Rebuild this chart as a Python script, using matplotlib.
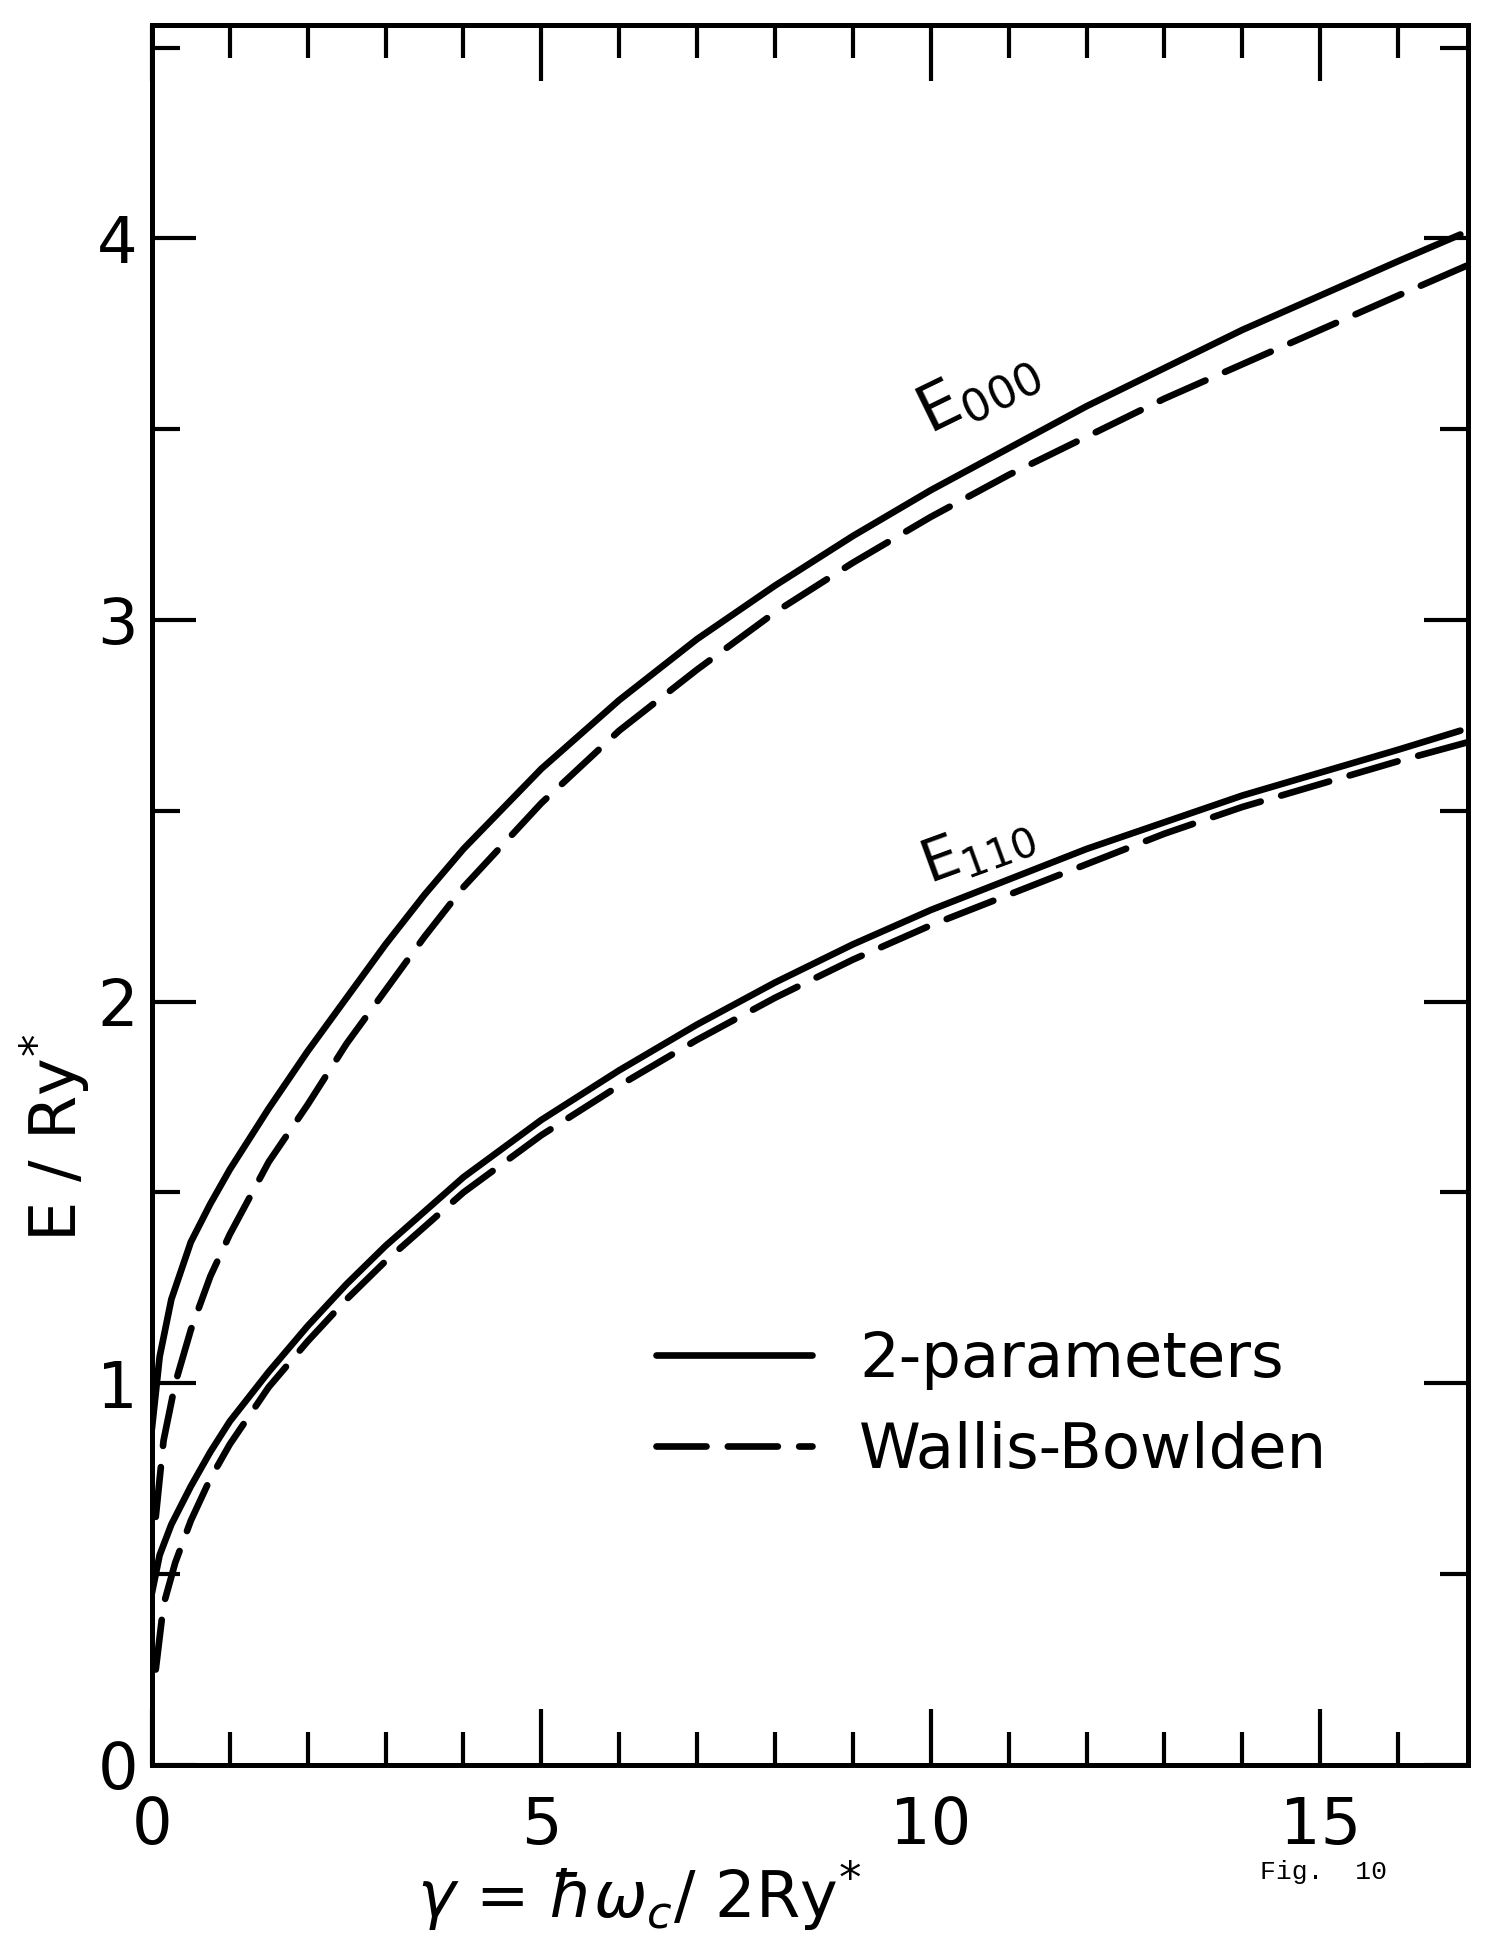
import matplotlib
matplotlib.use("Agg")
import matplotlib.pyplot as plt
from matplotlib.ticker import MultipleLocator

# ---- data ----
x_e000_2p = [0.0, 0.1, 0.25, 0.5, 0.75, 1, 1.5, 2, 2.5, 3, 3.5, 4, 5, 6, 7, 8, 9, 10, 11, 12, 13,
             14, 15, 16, 16.8]
y_e000_2p = [0.88, 1.07, 1.22, 1.37, 1.47, 1.56, 1.72, 1.87, 2.01, 2.15, 2.28, 2.40, 2.61, 2.79,
             2.95, 3.09, 3.22, 3.34, 3.45, 3.56, 3.66, 3.76, 3.85, 3.94, 4.01]
x_e000_wb = [0.05, 0.15, 0.3, 0.5, 0.75, 1, 1.5, 2, 2.5, 3, 3.5, 4, 5, 6, 7, 8, 9, 10, 11, 12, 13,
             14, 15, 16, 16.9]
y_e000_wb = [0.65, 0.85, 1.00, 1.14, 1.28, 1.39, 1.58, 1.73, 1.89, 2.03, 2.17, 2.30, 2.52, 2.71,
             2.87, 3.02, 3.15, 3.27, 3.38, 3.48, 3.58, 3.67, 3.76, 3.85, 3.93]
x_e110_2p = [0.0, 0.1, 0.25, 0.5, 0.75, 1, 1.5, 2, 2.5, 3, 3.5, 4, 5, 6, 7, 8, 9, 10, 11, 12, 13,
             14, 15, 16, 16.8]
y_e110_2p = [0.45, 0.55, 0.63, 0.73, 0.82, 0.90, 1.03, 1.15, 1.26, 1.36, 1.45, 1.54, 1.69, 1.82,
             1.94, 2.05, 2.15, 2.24, 2.32, 2.40, 2.47, 2.54, 2.60, 2.66, 2.71]
x_e110_wb = [0.05, 0.15, 0.3, 0.5, 0.75, 1, 1.5, 2, 2.5, 3, 3.5, 4, 5, 6, 7, 8, 9, 10, 11, 12, 13,
             14, 15, 16, 16.9]
y_e110_wb = [0.25, 0.42, 0.53, 0.64, 0.75, 0.84, 0.99, 1.11, 1.22, 1.32, 1.41, 1.50, 1.65, 1.78,
             1.90, 2.01, 2.11, 2.20, 2.28, 2.36, 2.44, 2.51, 2.57, 2.63, 2.68]

x_ticks = [0, 5, 10, 15]
y_ticks = [0, 1, 2, 3, 4]
legend_labels = ["2-parameters", "Wallis-Bowlden"]

plt.rcParams['font.family'] = ['DejaVu Sans']
plt.rcParams['mathtext.fontset'] = 'dejavusans'

fig = plt.figure(figsize=(14.89, 19.38), dpi=100)
ax = fig.add_axes([0.102, 0.0893, 0.884, 0.898])

lw = 4.8
solid_kw = dict(color='black', lw=lw, solid_capstyle='round', solid_joinstyle='round')
dash_kw = dict(color='black', lw=lw, dashes=(7.5, 3.2), dash_capstyle='round',
               dash_joinstyle='round')

l1, = ax.plot(x_e000_2p, y_e000_2p, label=legend_labels[0], **solid_kw)
l2, = ax.plot(x_e000_wb, y_e000_wb, label=legend_labels[1], **dash_kw)
ax.plot(x_e110_2p, y_e110_2p, **solid_kw)
ax.plot(x_e110_wb, y_e110_wb, **dash_kw)

ax.set_xlim(0, 16.9)
ax.set_ylim(0, 4.56)

ax.xaxis.set_minor_locator(MultipleLocator(1))
ax.yaxis.set_minor_locator(MultipleLocator(0.5))
ax.set_xticks(x_ticks)
ax.set_yticks(y_ticks)
ax.set_xticklabels([str(v) for v in x_ticks])
ax.set_yticklabels([str(v) for v in y_ticks])

for sp in ax.spines.values():
    sp.set_linewidth(3.6)

ax.tick_params(axis='x', which='major', direction='in', length=40, width=3,
               top=True, bottom=True, labelsize=46, pad=22)
ax.tick_params(axis='x', which='minor', direction='in', length=24, width=3,
               top=True, bottom=True)
ax.tick_params(axis='y', which='major', direction='in', length=32, width=3,
               left=True, right=True, labelsize=46, pad=10)
ax.tick_params(axis='y', which='minor', direction='in', length=20, width=3,
               left=True, right=True)

# curve labels
ax.text(10.6, 3.60, r"E$_{000}$", fontsize=46, rotation=26, ha='center', va='center')
ax.text(10.6, 2.40, r"E$_{110}$", fontsize=42, rotation=20, ha='center', va='center')

leg = ax.legend(handles=[l1, l2], loc='upper left', bbox_to_anchor=(0.383, 0.250),
                frameon=False, fontsize=45, handlelength=2.5, handletextpad=0.75,
                labelspacing=0.5, borderpad=0, borderaxespad=0)

fig.text(0.037, 0.413, r"E / Ry$^{*}$", fontsize=46, rotation=90, ha='center', va='center')
fig.text(0.429, 0.022, r"$\gamma$ = $\hbar\omega_c$/ 2Ry$^{*}$", fontsize=46,
         ha='center', va='center')
fig.text(0.846, 0.034, "Fig.  10", fontsize=19, family='Liberation Mono',
         ha='left', va='center')

fig.savefig("out.png", dpi=100)
